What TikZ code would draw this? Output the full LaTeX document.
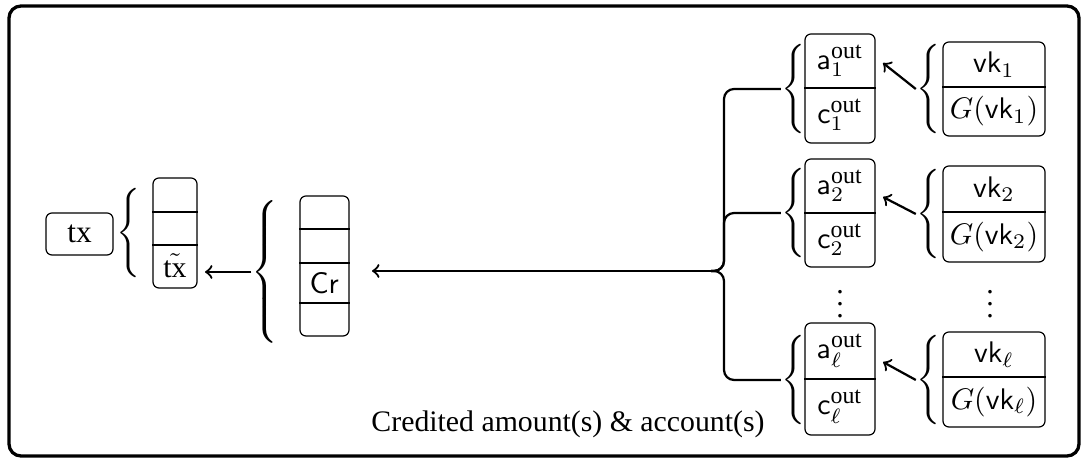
\documentclass[tikz,border=0pt]{standalone}
\usepackage{amsmath}
\usepackage[no-math]{fontspec}
\setmainfont{Liberation Serif}
\newcommand\mybrace[1]{$\delimitershortfall=0pt\delimiterfactor=1000\nulldelimiterspace=0pt\left\{\vcenter{\hbox{\rule{0pt}{#1}}}\right.$}
\newcommand\outsup{\mbox{\fontsize{8}{9}\selectfont out}}
\def\PX{0.3356pt}
\begin{document}
\begin{tikzpicture}[x=0.3356pt,y=-0.3356pt,
  box/.style={draw, rounded corners=2pt, line width=0.4pt, inner sep=0pt},
  conn/.style={line width=0.75pt},
  lbl/.style={inner sep=0pt},
  brc/.style={inner sep=0pt, anchor=east},
  divl/.style={line width=0.4pt}]
\useasboundingbox (0,0) rectangle (1083,461);
\draw[line width=1.1pt, rounded corners=12*\PX] (9,6) rectangle (1079,456);

% left part
\node[box, minimum width=67*\PX, minimum height=42*\PX, font=\fontsize{10.5}{12}\selectfont] (tx) at (79.5,234) {tx};
\node[brc] (brA) at (141,233) {\mybrace{30pt}};
\node[box, minimum width=44*\PX, minimum height=110*\PX] (s1) at (175,233) {};
\draw[divl] (s1.west |- 0,212) -- (s1.east |- 0,212);
\draw[divl] (s1.west |- 0,245) -- (s1.east |- 0,245);
\node[lbl] (ttx) at (175,266) {$\tilde{\text{tx}}$};

\node[brc] (brB) at (279,272) {\mybrace{47pt}};
\node[box, minimum width=49*\PX, minimum height=140*\PX] (cr) at (324.5,266) {};
\draw[divl] (cr.west |- 0,229) -- (cr.east |- 0,229);
\draw[divl] (cr.west |- 0,263) -- (cr.east |- 0,263);
\draw[divl] (cr.west |- 0,303) -- (cr.east |- 0,303);
\node[lbl] (crt) at (324.5,283) {$\mathsf{Cr}$};

% output stacks
\node[box, minimum width=70*\PX, minimum height=109*\PX] (o1) at (840,88.5) {};
\draw[divl] (o1.west |- 0,88) -- (o1.east |- 0,88);
\node[lbl] (a1) at (840,61) {$\mathsf{a}_1^{\outsup}$};
\node[lbl] (c1) at (840,115) {$\mathsf{c}_1^{\outsup}$};
\node[box, minimum width=70*\PX, minimum height=108*\PX] (o2) at (840,213) {};
\draw[divl] (o2.west |- 0,213) -- (o2.east |- 0,213);
\node[lbl] (a2) at (840,186) {$\mathsf{a}_2^{\outsup}$};
\node[lbl] (c2) at (840,240) {$\mathsf{c}_2^{\outsup}$};
\node[box, minimum width=70*\PX, minimum height=112*\PX] (ol) at (840,379) {};
\draw[divl] (ol.west |- 0,379) -- (ol.east |- 0,379);
\node[lbl] (al) at (840,351) {$\mathsf{a}_\ell^{\outsup}$};
\node[lbl] (cl) at (840,407) {$\mathsf{c}_\ell^{\outsup}$};

\node[brc] (ab1) at (806,89) {\mybrace{30pt}};
\node[brc] (ab2) at (806,213) {\mybrace{30pt}};
\node[brc] (abl) at (806,380) {\mybrace{30pt}};

% vk stacks
\node[box, minimum width=102*\PX, minimum height=94*\PX] (v1) at (994,89) {};
\draw[divl] (v1.west |- 0,87) -- (v1.east |- 0,87);
\node[lbl] (vk1) at (994,64.5) {$\mathsf{vk}_1$};
\node[lbl] (g1) at (994,111.5) {$G(\mathsf{vk}_1)$};
\node[box, minimum width=102*\PX, minimum height=96*\PX] (v2) at (994,214) {};
\draw[divl] (v2.west |- 0,212) -- (v2.east |- 0,212);
\node[lbl] (vk2) at (994,189) {$\mathsf{vk}_2$};
\node[lbl] (g2) at (994,237) {$G(\mathsf{vk}_2)$};
\node[box, minimum width=102*\PX, minimum height=95*\PX] (vl) at (994,379.5) {};
\draw[divl] (vl.west |- 0,377) -- (vl.east |- 0,377);
\node[lbl] (vkl) at (994,354.5) {$\mathsf{vk}_\ell$};
\node[lbl] (gl) at (994,402) {$G(\mathsf{vk}_\ell)$};

\node[brc] (vb1) at (941,89) {\mybrace{29.5pt}};
\node[brc] (vb2) at (941,214) {\mybrace{29.5pt}};
\node[brc] (vbl) at (941,380) {\mybrace{29.5pt}};

\node[lbl] (d1) at (840,295) {$\vdots$};
\node[lbl] (d2) at (990,295) {$\vdots$};

\node[anchor=base, inner sep=0pt] (cap) at (568,432) {Credited amount(s) \& account(s)};

% connectors
\coordinate (e1) at (883,63);
\coordinate (e2) at (883,197);
\coordinate (el) at (883,362);
\draw[conn,->] (vb1.west) -- (e1);
\draw[conn,->] (vb2.west) -- (e2);
\draw[conn,->] (vbl.west) -- (el);

\coordinate (cusp) at (711,271);
\coordinate (crend) at (372,271);
\draw[conn, rounded corners=10*\PX] (ab1.west) -| (724,271) -- (cusp);
\draw[conn, rounded corners=10*\PX] (ab2.west) -| (724,271) -- (cusp);
\draw[conn, rounded corners=10*\PX] (abl.west) -| (724,271) -- (cusp);
\draw[conn,->] (cusp) -- (crend);

\coordinate (tend) at (205,272);
\draw[conn,->] (brB.west) -- (tend);
\end{tikzpicture}
\end{document}
